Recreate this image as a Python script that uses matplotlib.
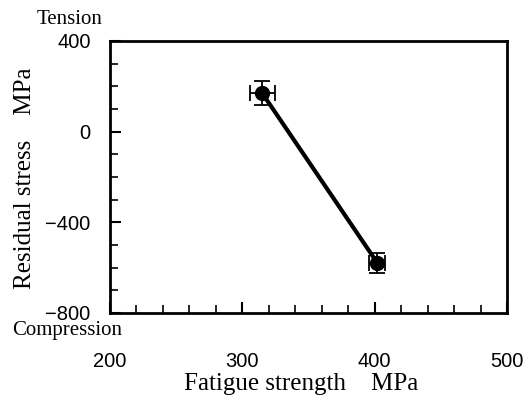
import matplotlib
matplotlib.use("Agg")
from matplotlib import pyplot as plt
from matplotlib.ticker import MultipleLocator

fatigue = [315, 402]
fatigue_err = [9.5, 6]
residual = [170, -579]
residual_err = [53, 44]

W, H = 527, 397
fig = plt.figure(figsize=(W / 100, H / 100), dpi=100)
ax = fig.add_axes([110 / W, 84 / H, 397 / W, 272 / H])

ax.errorbar(fatigue, residual, xerr=fatigue_err, yerr=residual_err,
            color='black', lw=3, marker='o', ms=10, ecolor='black',
            elinewidth=1.3, capsize=5.5, capthick=1.3)

ax.set_xlim(200, 500)
ax.set_ylim(-800, 400)
ax.xaxis.set_major_locator(MultipleLocator(100))
ax.xaxis.set_minor_locator(MultipleLocator(20))
ax.yaxis.set_major_locator(MultipleLocator(400))
ax.yaxis.set_minor_locator(MultipleLocator(100))
ax.tick_params(which='both', direction='in', top=False, right=False)
ax.tick_params(which='major', length=8, width=1.5, labelsize=14.5)
ax.tick_params(axis='x', which='major', pad=28)
ax.tick_params(axis='y', which='major', pad=14)
ax.tick_params(which='minor', length=6, width=1.2)
for s in ax.spines.values():
    s.set_linewidth(2)
ax.yaxis.set_major_formatter(plt.FuncFormatter(lambda v, p: f"{int(v)}".replace('-', '\u2212')))
for lab in ax.get_xticklabels() + ax.get_yticklabels():
    lab.set_fontfamily('Liberation Sans')

serif = 'Liberation Serif'
ax.set_xlabel('Fatigue strength    MPa', fontfamily=serif, fontsize=18)
ax.set_ylabel('Residual stress    MPa', fontfamily=serif, fontsize=18)
ax.xaxis.set_label_coords((301 - 110) / 397, -(373 - 313) / 272)
ax.yaxis.set_label_coords(-(110 - 36) / 397, (313 - 178) / 272)
fig.text(70 / W, 1 - 19 / H, 'Tension', fontfamily=serif, fontsize=15,
         ha='center', va='center')
fig.text(67 / W, 1 - 330 / H, 'Compression', fontfamily=serif, fontsize=15,
         ha='center', va='center')

fig.savefig('out.png', dpi=100)
